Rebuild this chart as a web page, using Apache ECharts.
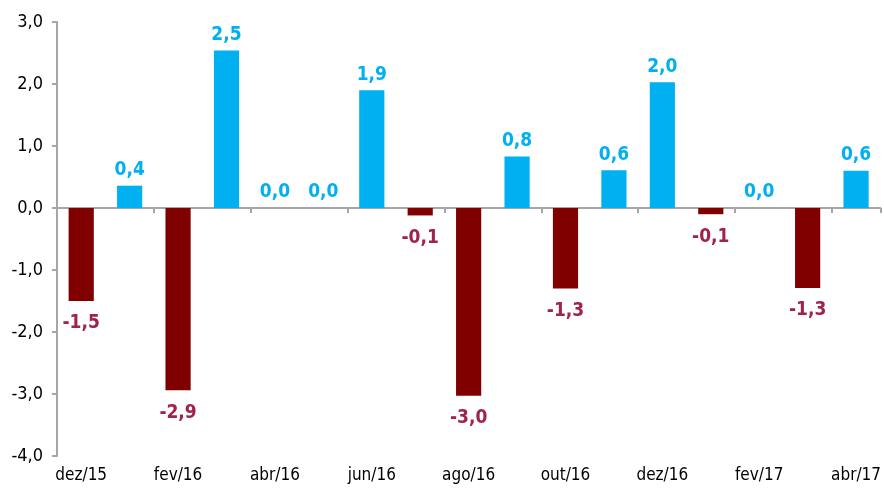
<!DOCTYPE html>
<html>
<head>
<meta charset="utf-8">
<script src="https://cdn.jsdelivr.net/npm/echarts@6/dist/echarts.min.js"></script>
<style>
  html, body { margin: 0; padding: 0; background: #fff; }
  #chart { width: 884px; height: 493px; }
</style>
</head>
<body>
<div id="chart"></div>
<script>
const months = ['dez/15', 'jan/16', 'fev/16', 'mar/16', 'abr/16', 'mai/16', 'jun/16', 'jul/16', 'ago/16',
  'set/16', 'out/16', 'nov/16', 'dez/16', 'jan/17', 'fev/17', 'mar/17', 'abr/17'];
const values = [-1.5, 0.36, -2.94, 2.54, 0.0, 0.0, 1.9, -0.12, -3.03, 0.83, -1.3, 0.61, 2.03, -0.1, 0.0, -1.29, 0.6];

const yMin = -4;
const yMax = 3;

const font = "'Liberation Sans Narrow', 'DejaVu Sans Condensed', sans-serif";
const blue = '#00b0f0';
const darkRed = '#800000';
const redLabel = '#a0224e';

const fmt = v => v.toFixed(1).replace('.', ',');

const chart = echarts.init(document.getElementById('chart'));

const barData = values.map(v => ({
  value: v,
  itemStyle: { color: v < 0 ? darkRed : blue },
  label: {
    position: v < 0 ? 'bottom' : 'top',
    distance: v < 0 ? 13 : 6,
    color: v < 0 ? redLabel : blue
  }
}));

const option = {
  animation: false,
  backgroundColor: '#ffffff',
  grid: { left: 57, right: 2, top: 22, bottom: 37 },
  xAxis: {
    type: 'category',
    data: months,
    axisLine: { onZero: true, lineStyle: { color: '#a6a6a6', width: 2 } },
    axisTick: { show: true, interval: 1, length: 5, lineStyle: { color: '#a6a6a6', width: 2 } },
    axisLabel: {
      interval: 1,
      color: '#000',
      fontFamily: font,
      fontSize: 17,
      margin: 11
    }
  },
  yAxis: {
    type: 'value',
    min: yMin,
    max: yMax,
    interval: 1,
    splitLine: { show: false },
    axisLine: { show: true, lineStyle: { color: '#a6a6a6', width: 2 } },
    axisTick: { show: true, length: 5, lineStyle: { color: '#a6a6a6', width: 2 } },
    axisLabel: {
      color: '#000',
      fontFamily: font,
      fontSize: 18,
      margin: 14,
      formatter: v => fmt(v)
    }
  },
  series: [{
    type: 'bar',
    data: barData,
    barWidth: '52%',
    label: {
      show: true,
      fontFamily: font,
      fontSize: 19,
      fontWeight: 'bold',
      formatter: p => fmt(p.value)
    }
  }]
};

chart.setOption(option);
</script>
</body>
</html>
